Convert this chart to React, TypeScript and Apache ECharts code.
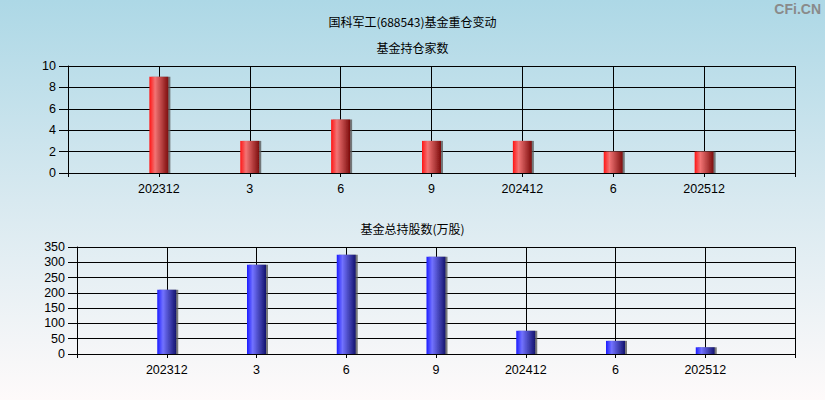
import React, { useEffect, useRef } from "react";
import * as echarts from "echarts";

const categories = ["202312", "3", "6", "9", "202412", "6", "202512"];
const fundCount = [9, 3, 5, 3, 3, 2, 2];
const totalShares = [210, 292, 325, 318, 76, 43, 22];
const countTicks = { min: 0, max: 10, interval: 2 };
const shareTicks = { min: 0, max: 350, interval: 50 };

const mainTitle = "国科军工(688543)基金重仓变动";
const topTitle = "基金持仓家数";
const bottomTitle = "基金总持股数(万股)";

export default function App() {
  const ref = useRef<HTMLDivElement>(null);
  useEffect(() => {
    document.body.style.margin = "0";
    const chart = echarts.init(ref.current!, null, { renderer: "svg" });
    const xData = ["", ...categories, ""];
    const pad = (arr: number[]) => ["-", ...arr, "-"];
    const barGrad = (c0: string, c1: string, c2: string) =>
      new echarts.graphic.LinearGradient(0, 0, 1, 0, [
        { offset: 0, color: c0 },
        { offset: 0.3, color: c1 },
        { offset: 1, color: c2 },
      ]);
    const xAxisBase = (gridIndex: number) => ({
      type: "category" as const,
      gridIndex,
      data: xData,
      boundaryGap: false,
      axisLine: { lineStyle: { color: "#000", width: 1 } },
      axisTick: { show: true, interval: 0, length: 4, lineStyle: { color: "#000" } },
      axisLabel: {
        interval: 0,
        color: "#000",
        fontFamily: "Liberation Sans",
        fontSize: 12.5,
        margin: 9,
      },
      splitLine: { show: true, interval: 0, lineStyle: { color: "#000", width: 1 } },
    });
    const yAxisBase = (gridIndex: number, t: { min: number; max: number; interval: number }) => ({
      type: "value" as const,
      gridIndex,
      min: t.min,
      max: t.max,
      interval: t.interval,
      axisLine: { show: true, lineStyle: { color: "#000", width: 1 } },
      axisTick: { show: true, length: 9, lineStyle: { color: "#000" } },
      axisLabel: {
        color: "#000",
        fontFamily: "Liberation Sans",
        fontSize: 12.5,
        margin: 12,
      },
      splitLine: { show: true, lineStyle: { color: "#000", width: 1 } },
    });
    chart.setOption({
      animation: false,
      backgroundColor: new echarts.graphic.LinearGradient(0, 0, 0, 1, [
        { offset: 0, color: "#add8e6" },
        { offset: 0.5, color: "#d8e9f0" },
        { offset: 1, color: "#fefafa" },
      ]),
      title: [
        {
          text: mainTitle,
          left: "center",
          top: 10,
          textStyle: { fontSize: 12, fontWeight: "normal", color: "#000", fontFamily: "Noto Sans CJK SC" },
        },
        {
          text: topTitle,
          left: "center",
          top: 36,
          textStyle: { fontSize: 12, fontWeight: "normal", color: "#000", fontFamily: "Noto Sans CJK SC" },
        },
        {
          text: bottomTitle,
          left: "center",
          top: 217,
          textStyle: { fontSize: 12, fontWeight: "normal", color: "#000", fontFamily: "Noto Sans CJK SC" },
        },
      ],
      graphic: [
        {
          type: "text",
          right: 4,
          top: 2,
          style: {
            text: "CFi.CN",
            fill: "#8a8a8a",
            font: "bold 14px 'Liberation Sans'",
          },
        },
      ],
      grid: [
        { left: 68, right: 30, top: 66, height: 107 },
        { left: 77, right: 30, top: 247, height: 107 },
      ],
      xAxis: [xAxisBase(0), xAxisBase(1)],
      yAxis: [yAxisBase(0, countTicks), yAxisBase(1, shareTicks)],
      series: [
        {
          type: "bar",
          xAxisIndex: 0,
          yAxisIndex: 0,
          data: pad(fundCount),
          barWidth: 19,
          itemStyle: {
            color: barGrad("#ff1414", "#f27474", "#7c0c0c"),
            shadowColor: "rgba(90,90,90,0.8)",
            shadowOffsetX: 2,
            shadowBlur: 0,
          },
        },
        {
          type: "bar",
          xAxisIndex: 1,
          yAxisIndex: 1,
          data: pad(totalShares),
          barWidth: 19,
          itemStyle: {
            color: barGrad("#1c1cff", "#7272ff", "#14146e"),
            shadowColor: "rgba(90,90,90,0.8)",
            shadowOffsetX: 2,
            shadowBlur: 0,
          },
        },
      ],
    });
    return () => chart.dispose();
  }, []);
  return <div ref={ref} style={{ width: 825, height: 400 }} />;
}
